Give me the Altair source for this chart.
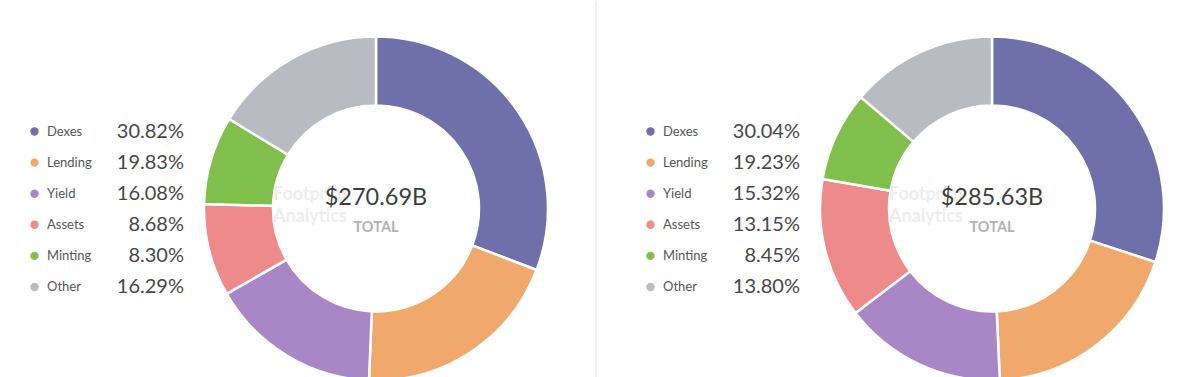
import altair as alt
import pandas as pd

categories = ["Dexes", "Lending", "Yield", "Assets", "Minting", "Other"]
left_pct = [30.82, 19.83, 16.08, 8.68, 8.30, 16.29]
right_pct = [30.04, 19.23, 15.32, 13.15, 8.45, 13.80]
totals = ["$270.69B", "$285.63B"]
colors = ["#6f70aa", "#f0a86c", "#a986c5", "#ee8b8a", "#80bf4b", "#b8bbc2"]

FONT = "Lato"
CX, CY = 376, 207.5


def panel(pcts, total, width, separator=False):
    df = pd.DataFrame({
        "cat": categories,
        "pct": pcts,
        "idx": list(range(len(categories))),
        "label": [f"{v:.2f}%" for v in pcts],
    })
    color = alt.Color("cat:N", scale=alt.Scale(domain=categories, range=colors), legend=None)
    yscale = alt.Y("cat:N", scale=alt.Scale(type="point", domain=categories, range=[130.5, 286], padding=0), axis=None)
    base = alt.Chart(df)

    arc = base.mark_arc(innerRadius=103, outerRadius=172, stroke="white", strokeWidth=2.5).encode(
        theta=alt.Theta("pct:Q", stack=True),
        color=color,
        order=alt.Order("idx:Q"),
        x=alt.value(CX), y=alt.value(CY),
    )
    dots = base.mark_circle(size=70, opacity=1).encode(x=alt.value(34.5), y=yscale, color=color)
    names = base.mark_text(align="left", baseline="middle", font=FONT, fontSize=13, color="#555555").encode(
        x=alt.value(47), y=yscale, text="cat:N")
    vals = base.mark_text(align="right", baseline="middle", font=FONT, fontSize=20, color="#474747").encode(
        x=alt.value(184), y=yscale, text="label:N")

    cdf = pd.DataFrame({"total": [total], "sub": ["TOTAL"], "w1": ["Footprint"], "w2": ["Analytics"]})
    cbase = alt.Chart(cdf)
    wm1 = cbase.mark_text(align="left", baseline="middle", font=FONT, fontSize=18, fontWeight="bold",
                          color="#cccccc", opacity=0.35).encode(x=alt.value(273), y=alt.value(194), text="w1:N")
    wm2 = cbase.mark_text(align="left", baseline="middle", font=FONT, fontSize=18, fontWeight="bold",
                          color="#cccccc", opacity=0.35).encode(x=alt.value(273), y=alt.value(216), text="w2:N")
    ctot = cbase.mark_text(align="center", baseline="middle", font=FONT, fontSize=23.5, color="#3d3d3d").encode(
        x=alt.value(CX), y=alt.value(197), text="total:N")
    csub = cbase.mark_text(align="center", baseline="middle", font=FONT, fontSize=14.5, fontWeight="bold",
                           color="#b3b3b3").encode(x=alt.value(CX), y=alt.value(227), text="sub:N")

    layers = [arc, wm1, wm2, dots, names, vals, ctot, csub]
    if separator:
        sep = cbase.mark_rule(color="#eeeeee", strokeWidth=1.5).encode(
            x=alt.value(596), y=alt.value(0), y2=alt.value(377))
        layers.append(sep)
    return alt.layer(*layers).properties(width=width, height=377)


chart = alt.hconcat(
    panel(left_pct, totals[0], 616, separator=True),
    panel(right_pct, totals[1], 582),
    spacing=0,
).properties(
    padding=0, background="white"
).configure_view(stroke=None).configure_concat(spacing=0)

chart.save("out.html", embed_options={"renderer": "svg", "actions": False})
